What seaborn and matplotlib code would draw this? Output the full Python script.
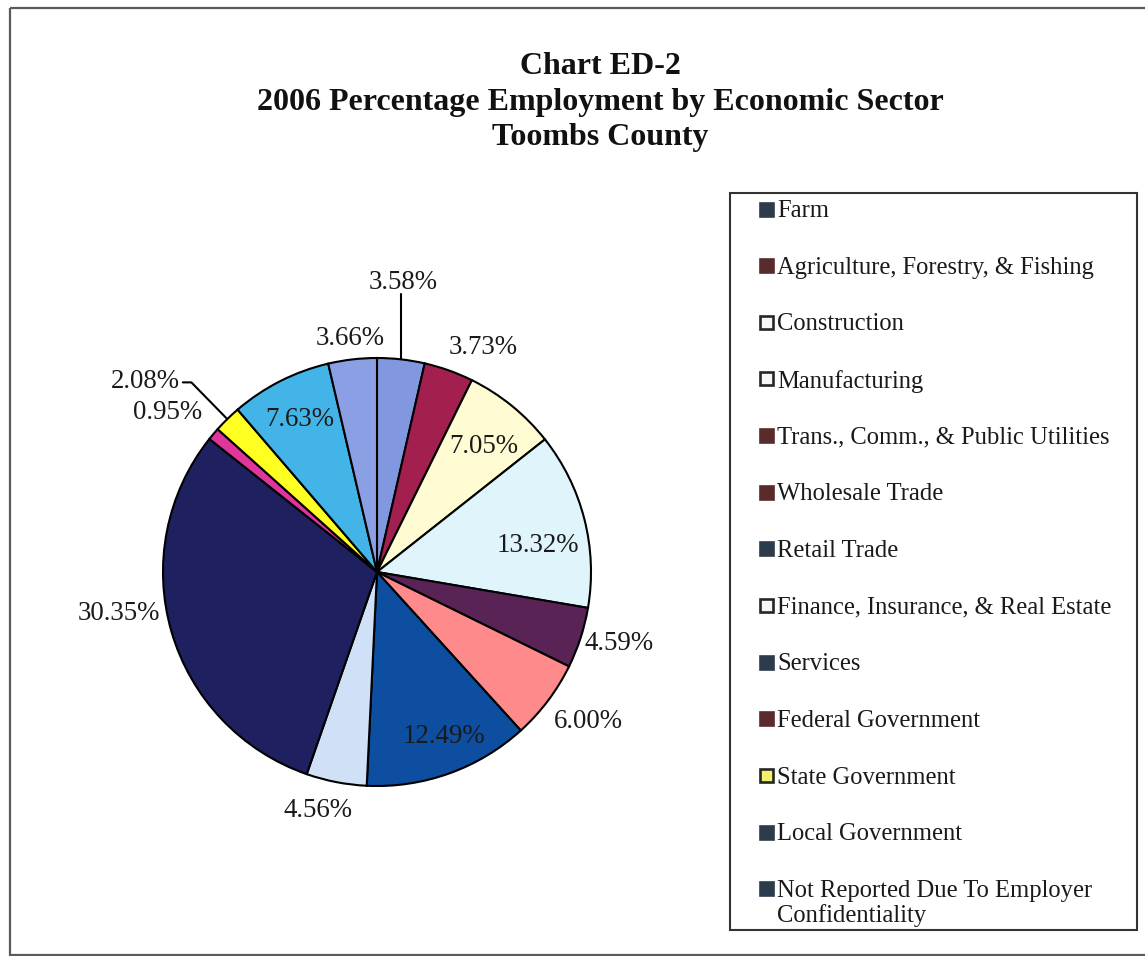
import numpy as np
import matplotlib
matplotlib.use("Agg")
import matplotlib.pyplot as plt
import seaborn as sns
from matplotlib.patches import Rectangle

# ---- data -------------------------------------------------------------
sectors = [
    "Farm",
    "Agriculture, Forestry, & Fishing",
    "Construction",
    "Manufacturing",
    "Trans., Comm., & Public Utilities",
    "Wholesale Trade",
    "Retail Trade",
    "Finance, Insurance, & Real Estate",
    "Services",
    "Federal Government",
    "State Government",
    "Local Government",
    "Not Reported Due To Employer\nConfidentiality",
]
shares = [3.58, 3.73, 7.05, 13.32, 4.59, 6.00, 12.49, 4.56, 30.35, 0.95, 2.08, 7.63, 3.66]

# ---- styling ----------------------------------------------------------
slice_colors = ["#8198e0", "#a21f4f", "#fffbd2", "#dff4fb", "#5a2356", "#ff8a8c",
                "#0d4ea0", "#d0e1f7", "#1f2060", "#e0369b", "#ffff22", "#42b4e8",
                "#8b9fe4"]
SLATE, BROWN, INK = "#2d3c4c", "#592b2b", "#262626"
key_fill = [SLATE, BROWN, "#f6f6f6", "#f6f6f6", BROWN, BROWN, SLATE,
            "#f6f6f6", SLATE, BROWN, "#f2f26a", SLATE, SLATE]
key_edge = [SLATE, BROWN, INK, INK, BROWN, BROWN, SLATE,
            INK, SLATE, BROWN, INK, SLATE, SLATE]

# label placement: radius (pie radii) and clockwise angular shift (deg)
label_radius = [1.36, 1.16, 0.77, 0.76, 1.18, 1.21, 0.83, 1.15, 1.22, 1.23, 1.40, 0.80, 1.10]
label_shift = [-1.3, 5.6, 1.3, 5.1, -1.4, -1.6, -2.4, 3.0, 7.0, -2.8, -6.1, 0.0, 0.0]
leader_kind = {0: "vertical", 10: "elbow"}

sns.set_theme(style="white")
plt.rcParams["font.family"] = ["Liberation Serif", "DejaVu Serif"]

W, H = 1145, 956
fig = plt.figure(figsize=(W / 100, H / 100), dpi=100, facecolor="white")

# overlay in pixel coordinates for frame, title and key
ov = fig.add_axes([0, 0, 1, 1])
ov.set_xlim(0, W)
ov.set_ylim(H, 0)
ov.axis("off")

# ---- pie ---------------------------------------------------------------
cx, cy, R, L = 377, 572, 214, 1.6
side = 2 * L * R
ax = fig.add_axes([(cx - side / 2) / W, (H - cy - side / 2) / H, side / W, side / H])
wedges, _ = ax.pie(shares, colors=slice_colors, startangle=90, counterclock=False,
                   wedgeprops=dict(edgecolor="black", linewidth=1.5))
ax.set_xlim(-L, L)
ax.set_ylim(-L, L)
ax.set_aspect("equal")
ax.axis("off")

for i, (w, v) in enumerate(zip(wedges, shares)):
    mid = np.deg2rad((w.theta1 + w.theta2) / 2)
    ang = mid - np.deg2rad(label_shift[i])
    r = label_radius[i]
    tx, ty = r * np.cos(ang), r * np.sin(ang)
    ax.text(tx, ty, f"{v:.2f}%", ha="center", va="center", fontsize=19.4,
            color="#1a1a1a")
    kind = leader_kind.get(i)
    ex, ey = np.cos(mid), np.sin(mid)
    if kind == "vertical":
        ax.plot([ex, ex], [ey, ty - 0.055], color="black", lw=1.5)
    elif kind == "elbow":
        bx, by = 1.24 * np.cos(mid), 1.24 * np.sin(mid)
        ax.plot([ex, bx, bx - 0.04], [ey, by, by], color="black", lw=1.5)

# ---- title ------------------------------------------------------------
ov.text(600, 52, "Chart ED-2\n2006 Percentage Employment by Economic Sector\nToombs County",
        ha="center", va="top", fontsize=23, fontweight="bold",
        color="#111111", linespacing=1.3, multialignment="center")

# ---- key --------------------------------------------------------------
y0, step = 209, 56.65
for i, name in enumerate(sectors):
    yc = y0 + i * step
    ov.add_patch(Rectangle((760, yc - 6.5), 13, 13, facecolor=key_fill[i],
                           edgecolor=key_edge[i], linewidth=1.9, zorder=3))
    ov.text(777, yc - 9, name, ha="left", va="top", fontsize=17.7,
            color="#1a1a1a", linespacing=1.15)

ov.add_patch(Rectangle((730, 193), 407, 737, fill=False, edgecolor="#333333",
                       linewidth=1.5, zorder=5))

# outer frame (runs past the right edge)
ov.add_patch(Rectangle((10, 8), 1160, 947, fill=False, edgecolor="#5a5a5a",
                       linewidth=1.6, zorder=5))

fig.savefig("out.png", dpi=100, facecolor="white")
